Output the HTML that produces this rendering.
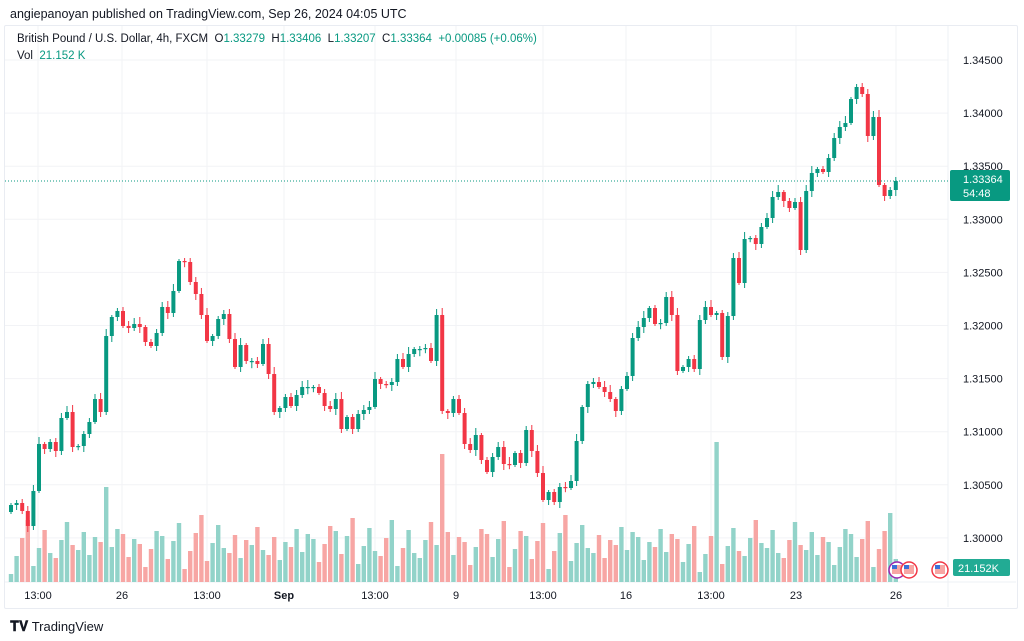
<!DOCTYPE html>
<html><head><meta charset="utf-8"><style>
body{margin:0;background:#fff;width:1024px;height:641px;overflow:hidden;font-family:"Liberation Sans",sans-serif;}
.t{position:absolute;white-space:nowrap;}
</style></head><body>
<div class="t" style="left:10px;top:7px;font-size:12.5px;color:#131722">angiepanoyan published on TradingView.com, Sep 26, 2024 04:05 UTC</div>
<div style="position:absolute;left:4px;top:25px;width:1012px;height:582px;border:1px solid #e9ecf2;border-radius:2px"></div>
<svg id="s" width="1024" height="641" style="position:absolute;left:0;top:0"></svg>
<div class="t" style="left:17px;top:33px;font-size:11.5px;color:#131722">British Pound / U.S. Dollar, 4h, FXCM&nbsp; O<span style="color:#089981">1.33279</span>&nbsp; H<span style="color:#089981">1.33406</span>&nbsp; L<span style="color:#089981">1.33207</span>&nbsp; C<span style="color:#089981">1.33364</span>&nbsp; <span style="color:#089981">+0.00085 (+0.06%)</span></div>
<div class="t" style="left:17px;top:50px;font-size:11.5px;color:#131722">Vol&nbsp; <span style="color:#089981">21.152 K</span></div>
<div class="t" style="left:10px;top:618px;font-size:13px;color:#131722"><b style="font-size:14px">&#x1D413;&#x1D415;</b> TradingView</div>
<script>
var C=[505,503,511,526,491,444,449,442,451,418,412,447,446,434,422,399,412,336,317,311,326,328,324,327,342,346,333,307,313,291,261,262,282,294,315,341,336,319,314,339,367,345,361,
361,364,344,374,412,408,397,406,395,387,387,387,393,406,409,399,429,417,429,414,410,407,379,384,385,382,359,367,354,349,349,348,361,315,411,413,399,413,444,450,435,460,472,
457,447,464,465,453,463,430,451,473,500,492,502,487,488,481,441,407,384,382,387,392,399,411,389,376,338,327,318,308,324,323,297,315,371,367,359,369,320,307,315,313,357,316,
258,283,239,238,244,227,218,197,192,201,208,202,250,191,173,169,172,158,138,127,123,99,87,94,136,117,185,196,190,181];
var G="#089981",R="#f23645",out="";
var py=[60,113.1,166.2,219.3,272.4,325.5,378.6,431.7,484.8,537.9];
var pl=["1.34500","1.34000","1.33500","1.33000","1.32500","1.32000","1.31500","1.31000","1.30500","1.30000"];
for(var k=0;k<py.length;k++){out+='<line x1="5" x2="948" y1="'+py[k]+'" y2="'+py[k]+'" stroke="#f2f3f6"/>';
 out+='<text x="963" y="'+(py[k]+4)+'" font-size="11" fill="#131722" font-family="Liberation Sans">'+pl[k]+'</text>';}
var tx=[38,122,207,284,375,456,543,626,711,796,896],tl=["13:00","26","13:00","Sep","13:00","9","13:00","16","13:00","23","26"];
for(k=0;k<tx.length;k++){out+='<line x1="'+tx[k]+'" x2="'+tx[k]+'" y1="26" y2="582" stroke="#f2f3f6"/>';
 out+='<text x="'+tx[k]+'" y="599" text-anchor="middle" font-size="11" fill="#131722" font-family="Liberation Sans"'+(k==3?' font-weight="bold"':'')+'>'+tl[k]+'</text>';}
out+='<line x1="5" x2="1016" y1="582" y2="582" stroke="#eef0f4"/>';
out+='<line x1="948" x2="948" y1="26" y2="607" stroke="#eef0f4"/>';
var big={17:95,77:128,126:140};
for(var i=0;i<C.length;i++){var x=11+i*5.6,o=i?C[i-1]:512,c=C[i],up=c<=o;
 var h=big[i]||(8+((i*53)%41)+((i*29)%23));
 out+='<rect x="'+(x-2.2)+'" y="'+(582-h)+'" width="4.4" height="'+h+'" fill="'+(up?'#92d3c9':'#f7a6a4')+'"/>';}
for(i=0;i<C.length;i++){var x=11+i*5.6,o=i?C[i-1]:512,c=C[i],up=c<=o,col=up?G:R;
 var t=Math.min(o,c),b=Math.max(o,c);if(b-t<1.2)b=t+1.2;
 var hi=t-(2+(i*7)%6),lo=b+(2+(i*3)%5);
 out+='<line x1="'+x+'" x2="'+x+'" y1="'+hi+'" y2="'+lo+'" stroke="'+col+'" stroke-width="1"/>';
 out+='<rect x="'+(x-2)+'" y="'+t+'" width="4" height="'+(b-t)+'" fill="'+col+'"/>';}
out+='<line x1="5" x2="948" y1="181" y2="181" stroke="#089981" stroke-dasharray="1,2"/>';
out+='<rect x="950" y="170" width="60" height="31" rx="2" fill="#089981"/>';
out+='<text x="963" y="183" font-size="11" fill="#fff" font-family="Liberation Sans">1.33364</text>';
out+='<text x="963" y="197" font-size="11" fill="#fff" font-family="Liberation Sans">54:48</text>';
out+='<rect x="953" y="559" width="57" height="17" rx="2" fill="#22ab94"/>';
out+='<text x="958" y="572" font-size="11" fill="#fff" font-family="Liberation Sans">21.152K</text>';
[[897,"#9c27b0"],[909,"#f23645"],[940,"#f23645"]].forEach(function(e){out+='<circle cx="'+e[0]+'" cy="570" r="8" fill="#fff" stroke="'+e[1]+'" stroke-width="1.5"/><rect x="'+(e[0]-5)+'" y="565" width="10" height="9" fill="#f7a6a4"/><rect x="'+(e[0]-5)+'" y="565" width="5" height="4" fill="#3a6fd8"/>';});
document.getElementById("s").innerHTML=out;
</script>
</body></html>
